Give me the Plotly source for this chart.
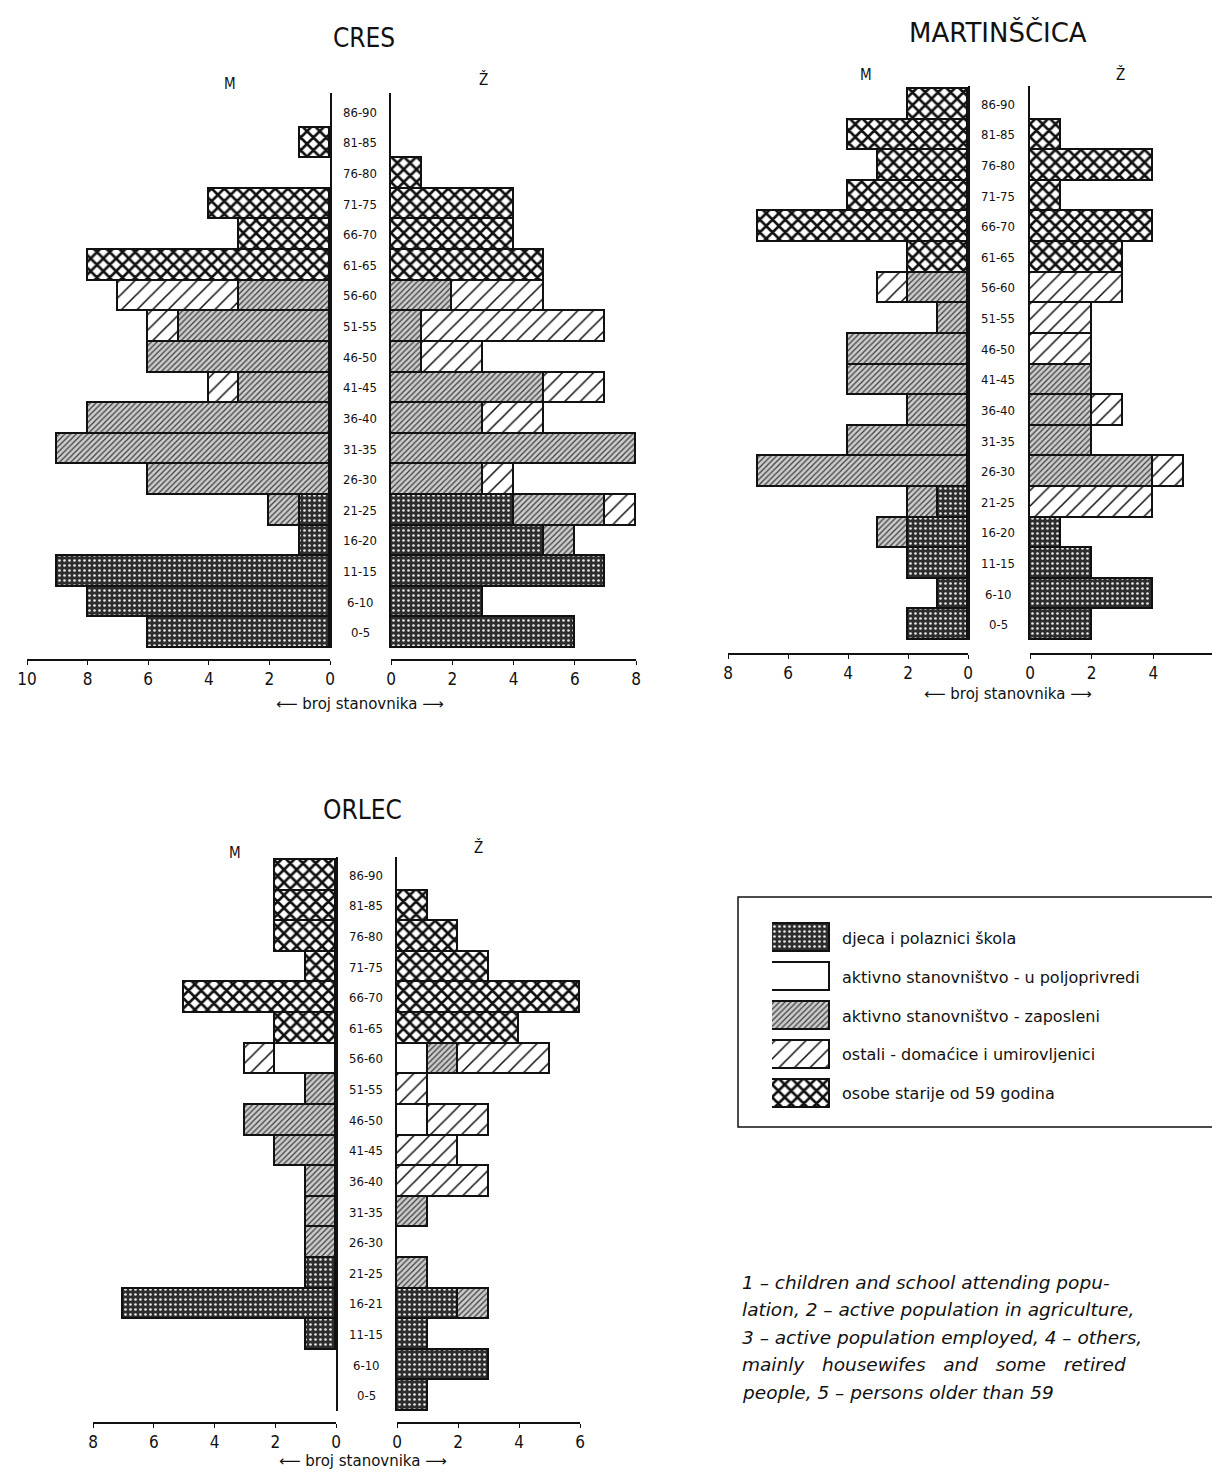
import plotly.graph_objects as go

# ---------------- DATA ----------------
AGES = ["0-5", "6-10", "11-15", "16-20", "21-25", "26-30", "31-35", "36-40", "41-45",
        "46-50", "51-55", "56-60", "61-65", "66-70", "71-75", "76-80", "81-85", "86-90"]
ORLEC_AGES = ["0-5", "6-10", "11-15", "16-21", "21-25", "26-30", "31-35", "36-40", "41-45",
              "46-50", "51-55", "56-60", "61-65", "66-70", "71-75", "76-80", "81-85", "86-90"]

CATEGORIES = ["djeca", "poljoprivreda", "zaposleni", "ostali", "starije"]
LEGEND_LABELS = [
    "djeca i polaznici škola",
    "aktivno stanovništvo - u poljoprivredi",
    "aktivno stanovništvo - zaposleni",
    "ostali - domaćice i umirovljenici",
    "osobe starije od 59 godina",
]

# values listed from age group 0-5 (first) up to 86-90 (last)
cres_m_djeca = [6, 8, 9, 1, 1, 0, 0, 0, 0, 0, 0, 0, 0, 0, 0, 0, 0, 0]
cres_m_polj = [0, 0, 0, 0, 0, 0, 0, 0, 0, 0, 0, 0, 0, 0, 0, 0, 0, 0]
cres_m_zap = [0, 0, 0, 0, 1, 6, 9, 8, 3, 6, 5, 3, 0, 0, 0, 0, 0, 0]
cres_m_ost = [0, 0, 0, 0, 0, 0, 0, 0, 1, 0, 1, 4, 0, 0, 0, 0, 0, 0]
cres_m_star = [0, 0, 0, 0, 0, 0, 0, 0, 0, 0, 0, 0, 8, 3, 4, 0, 1, 0]

cres_f_djeca = [6, 3, 7, 5, 4, 0, 0, 0, 0, 0, 0, 0, 0, 0, 0, 0, 0, 0]
cres_f_polj = [0, 0, 0, 0, 0, 0, 0, 0, 0, 0, 0, 0, 0, 0, 0, 0, 0, 0]
cres_f_zap = [0, 0, 0, 1, 3, 3, 8, 3, 5, 1, 1, 2, 0, 0, 0, 0, 0, 0]
cres_f_ost = [0, 0, 0, 0, 1, 1, 0, 2, 2, 2, 6, 3, 0, 0, 0, 0, 0, 0]
cres_f_star = [0, 0, 0, 0, 0, 0, 0, 0, 0, 0, 0, 0, 5, 4, 4, 1, 0, 0]

mart_m_djeca = [2, 1, 2, 2, 1, 0, 0, 0, 0, 0, 0, 0, 0, 0, 0, 0, 0, 0]
mart_m_polj = [0, 0, 0, 0, 0, 0, 0, 0, 0, 0, 0, 0, 0, 0, 0, 0, 0, 0]
mart_m_zap = [0, 0, 0, 1, 1, 7, 4, 2, 4, 4, 1, 2, 0, 0, 0, 0, 0, 0]
mart_m_ost = [0, 0, 0, 0, 0, 0, 0, 0, 0, 0, 0, 1, 0, 0, 0, 0, 0, 0]
mart_m_star = [0, 0, 0, 0, 0, 0, 0, 0, 0, 0, 0, 0, 2, 7, 4, 3, 4, 2]

mart_f_djeca = [2, 4, 2, 1, 0, 0, 0, 0, 0, 0, 0, 0, 0, 0, 0, 0, 0, 0]
mart_f_polj = [0, 0, 0, 0, 0, 0, 0, 0, 0, 0, 0, 0, 0, 0, 0, 0, 0, 0]
mart_f_zap = [0, 0, 0, 0, 0, 4, 2, 2, 2, 0, 0, 0, 0, 0, 0, 0, 0, 0]
mart_f_ost = [0, 0, 0, 0, 4, 1, 0, 1, 0, 2, 2, 3, 0, 0, 0, 0, 0, 0]
mart_f_star = [0, 0, 0, 0, 0, 0, 0, 0, 0, 0, 0, 0, 3, 4, 1, 4, 1, 0]

orl_m_djeca = [0, 0, 1, 7, 1, 0, 0, 0, 0, 0, 0, 0, 0, 0, 0, 0, 0, 0]
orl_m_polj = [0, 0, 0, 0, 0, 0, 0, 0, 0, 0, 0, 2, 0, 0, 0, 0, 0, 0]
orl_m_zap = [0, 0, 0, 0, 0, 1, 1, 1, 2, 3, 1, 0, 0, 0, 0, 0, 0, 0]
orl_m_ost = [0, 0, 0, 0, 0, 0, 0, 0, 0, 0, 0, 1, 0, 0, 0, 0, 0, 0]
orl_m_star = [0, 0, 0, 0, 0, 0, 0, 0, 0, 0, 0, 0, 2, 5, 1, 2, 2, 2]

orl_f_djeca = [1, 3, 1, 2, 0, 0, 0, 0, 0, 0, 0, 0, 0, 0, 0, 0, 0, 0]
orl_f_polj = [0, 0, 0, 0, 0, 0, 0, 0, 0, 1, 0, 1, 0, 0, 0, 0, 0, 0]
orl_f_zap = [0, 0, 0, 1, 1, 0, 1, 0, 0, 0, 0, 1, 0, 0, 0, 0, 0, 0]
orl_f_ost = [0, 0, 0, 0, 0, 0, 0, 3, 2, 2, 1, 3, 0, 0, 0, 0, 0, 0]
orl_f_star = [0, 0, 0, 0, 0, 0, 0, 0, 0, 0, 0, 0, 4, 6, 3, 2, 1, 0]

CRES_TICKS_M = [0, 2, 4, 6, 8, 10]
CRES_TICKS_F = [0, 2, 4, 6, 8]
SMALL_TICKS_M = [0, 2, 4, 6, 8]
SMALL_TICKS_F = [0, 2, 4, 6]

CAPTION = [
    "1 – children and school attending popu-",
    "lation, 2 – active population in agriculture,",
    "3 – active population employed, 4 – others,",
    "mainly\u00a0\u00a0\u00a0housewifes\u00a0\u00a0\u00a0and\u00a0\u00a0\u00a0some\u00a0\u00a0\u00a0retired",
    "people, 5 – persons older than 59",
]

# ---------------- STYLE ----------------
W, H = 1204, 1461
OFF = 8


def PX(x):
    return (x - OFF) / W


def PY(y):
    return 1 - (y - OFF) / H


FONT = "DejaVu Sans Condensed, Liberation Sans Narrow, DejaVu Sans, sans-serif"
WIDE = "DejaVu Sans, Verdana, sans-serif"

STYLES = {
    "djeca": dict(color="#3a3a3a", pattern=dict(shape=".", fgcolor="#e8e8e8", bgcolor="#2e2e2e",
                                                size=5, solidity=0.22, fillmode="replace")),
    "poljoprivreda": dict(color="#ffffff"),
    "zaposleni": dict(color="#c4c4c4", pattern=dict(shape="/", fgcolor="#3c3c3c", bgcolor="#cdcdcd",
                                                    size=4, solidity=0.3, fillmode="replace")),
    "ostali": dict(color="#ffffff", pattern=dict(shape="/", fgcolor="#111111", bgcolor="#ffffff",
                                                 size=11, solidity=0.14, fillmode="replace")),
    "starije": dict(color="#ffffff", pattern=dict(shape="x", fgcolor="#111111", bgcolor="#ffffff",
                                                  size=9, solidity=0.5, fillmode="replace")),
}

charts = [
    dict(title="CRES", tfont=FONT, tsize=26, ages=AGES,
         male=[cres_m_djeca, cres_m_polj, cres_m_zap, cres_m_ost, cres_m_star],
         female=[cres_f_djeca, cres_f_polj, cres_f_zap, cres_f_ost, cres_f_star],
         mticks=CRES_TICKS_M, fticks=CRES_TICKS_F,
         mx=(27, 330), fx=(391, 636), line_top=93, row_top=97, row_bot=648, xline=660,
         tpos=(364, 38), mpos=(230, 84), zpos=(483, 80), labx=360, bpos=(360, 704)),
    dict(title="MARTINŠČICA", tfont=WIDE, tsize=26, ages=AGES,
         male=[mart_m_djeca, mart_m_polj, mart_m_zap, mart_m_ost, mart_m_star],
         female=[mart_f_djeca, mart_f_polj, mart_f_zap, mart_f_ost, mart_f_star],
         mticks=SMALL_TICKS_M, fticks=SMALL_TICKS_F,
         mx=(728, 968), fx=(1030, 1215), line_top=86, row_top=89, row_bot=640, xline=654,
         tpos=(998, 32), mpos=(866, 75), zpos=(1120, 75), labx=998, bpos=(1008, 694)),
    dict(title="ORLEC", tfont=FONT, tsize=26, ages=ORLEC_AGES,
         male=[orl_m_djeca, orl_m_polj, orl_m_zap, orl_m_ost, orl_m_star],
         female=[orl_f_djeca, orl_f_polj, orl_f_zap, orl_f_ost, orl_f_star],
         mticks=SMALL_TICKS_M, fticks=SMALL_TICKS_F,
         mx=(93, 336), fx=(397, 580), line_top=857, row_top=860, row_bot=1411, xline=1423,
         tpos=(362, 810), mpos=(235, 853), zpos=(478, 847), labx=366, bpos=(363, 1461)),
]

fig = go.Figure()
layout = dict(width=W, height=H, margin=dict(l=0, r=0, t=0, b=0, pad=0), autosize=False,
              paper_bgcolor="white", plot_bgcolor="rgba(0,0,0,0)", barmode="stack",
              bargap=0, showlegend=False, font=dict(family=FONT, color="#111"))
annotations = []
shapes = []

ax = 0
for ch in charts:
    n = len(ch["ages"])
    rowh = (ch["row_bot"] - ch["row_top"]) / n
    ytop_extra = (ch["row_top"] - ch["line_top"]) / rowh
    ydom = [PY(ch["row_bot"]), PY(ch["line_top"])]
    for side in ("male", "female"):
        ax += 1
        xa = "x" if ax == 1 else f"x{ax}"
        ya = "y" if ax == 1 else f"y{ax}"
        xr = ch["mx"] if side == "male" else ch["fx"]
        ticks = ch["mticks"] if side == "male" else ch["fticks"]
        vmax = max(ticks)
        d0, d1 = PX(xr[0]), PX(xr[1])
        if d1 > 1:
            vmax = vmax * (1 - d0) / (d1 - d0)
            d1 = 1.0
        for cat, vals in zip(CATEGORIES, ch[side]):
            st = STYLES[cat]
            marker = dict(color=st["color"], line=dict(color="#111", width=1.6))
            if "pattern" in st:
                marker["pattern"] = st["pattern"]
            xs = [v if v else None for v in vals]
            fig.add_trace(go.Bar(x=xs, y=ch["ages"], orientation="h", xaxis=xa, yaxis=ya,
                                 width=1, marker=marker, hoverinfo="x+y", name=cat))
        xkey = "xaxis" if ax == 1 else f"xaxis{ax}"
        ykey = "yaxis" if ax == 1 else f"yaxis{ax}"
        layout[xkey] = dict(domain=[d0, d1],
                            range=[vmax, 0] if side == "male" else [0, vmax],
                            anchor="free", position=PY(ch["xline"]), automargin=False,
                            showline=True, linecolor="#111", linewidth=1.5,
                            ticks="outside", ticklen=4, tickwidth=1.3, tickcolor="#111",
                            tickvals=ticks, showgrid=False, zeroline=False,
                            tickfont=dict(size=17, family=FONT, color="#111"), fixedrange=True)
        layout[ykey] = dict(domain=ydom, anchor=xa, type="category", automargin=False,
                            categoryorder="array", categoryarray=ch["ages"],
                            range=[-0.5, n - 0.5 + ytop_extra],
                            side="right" if side == "male" else "left",
                            showline=True, linecolor="#111", linewidth=1.6,
                            showticklabels=False, ticks="", showgrid=False, zeroline=False,
                            fixedrange=True)
        if side == "male":
            ya_male = ya
    for a in ch["ages"]:
        annotations.append(dict(x=PX(ch["labx"]), xref="paper", y=a, yref=ya_male,
                                text=a, showarrow=False, xanchor="center", yanchor="middle",
                                font=dict(size=13, family=FONT, color="#111")))
    annotations.append(dict(x=PX(ch["tpos"][0]), y=PY(ch["tpos"][1]), xref="paper", yref="paper",
                            text=ch["title"], showarrow=False, xanchor="center", yanchor="middle",
                            font=dict(size=ch["tsize"], family=ch["tfont"], color="#111")))
    annotations.append(dict(x=PX(ch["mpos"][0]), y=PY(ch["mpos"][1]), xref="paper", yref="paper",
                            text="M", showarrow=False, xanchor="center", yanchor="middle",
                            font=dict(size=15, family=FONT, color="#111")))
    annotations.append(dict(x=PX(ch["zpos"][0]), y=PY(ch["zpos"][1]), xref="paper", yref="paper",
                            text="Ž", showarrow=False, xanchor="center", yanchor="middle",
                            font=dict(size=15, family=FONT, color="#111")))
    annotations.append(dict(x=PX(ch["bpos"][0]), y=PY(ch["bpos"][1]), xref="paper", yref="paper",
                            text="⟵ broj stanovnika ⟶", showarrow=False, xanchor="center",
                            yanchor="middle", font=dict(size=15, family=WIDE, color="#111")))

# ---------------- LEGEND (drawn as bars on a small hidden axis) ----------------
ax += 1
lx = f"x{ax}"
ly = f"y{ax}"
leg_rows = list(range(len(CATEGORIES)))
for i, cat in enumerate(CATEGORIES):
    st = STYLES[cat]
    marker = dict(color=st["color"], line=dict(color="#111", width=1.6))
    if "pattern" in st:
        marker["pattern"] = st["pattern"]
    fig.add_trace(go.Bar(x=[1], y=[leg_rows[i]], orientation="h", xaxis=lx, yaxis=ly,
                         width=0.72, marker=marker, hoverinfo="skip", name=LEGEND_LABELS[i]))
    annotations.append(dict(x=PX(840), xref="paper", y=leg_rows[i], yref=ly,
                            text=LEGEND_LABELS[i], showarrow=False, xanchor="left",
                            yanchor="middle", font=dict(size=16, family=WIDE, color="#111")))
layout[f"xaxis{ax}"] = dict(domain=[PX(772), PX(830)], range=[0, 1], anchor=ly, visible=False,
                            fixedrange=True, automargin=False)
layout[f"yaxis{ax}"] = dict(domain=[PY(1113), PY(919)], range=[4.5, -0.5], anchor=lx,
                            visible=False, fixedrange=True, automargin=False)
shapes.append(dict(type="rect", xref="paper", yref="paper", x0=PX(738), x1=PX(1230),
                   y0=PY(1127), y1=PY(897), line=dict(color="#111", width=1.5),
                   fillcolor="rgba(0,0,0,0)", layer="below"))

# ---------------- English caption ----------------
for i, line in enumerate(CAPTION):
    annotations.append(dict(x=PX(740), y=PY(1282 + i * 27.5), xref="paper", yref="paper",
                            text=f"<i>{line}</i>", showarrow=False, xanchor="left",
                            yanchor="middle",
                            font=dict(size=18.5, family=WIDE, color="#111")))

layout["annotations"] = annotations
layout["shapes"] = shapes
fig.update_layout(**layout)
fig.write_html("out.html")
